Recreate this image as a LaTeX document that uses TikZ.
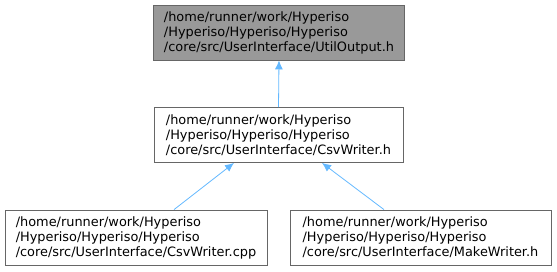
\documentclass[tikz,border=0pt]{standalone}
\usepackage{fontspec}
\setmainfont{DejaVu Sans}
\usetikzlibrary{arrows.meta}
\definecolor{edgeblue}{HTML}{63B8FF}
\definecolor{boxborder}{HTML}{666666}
\definecolor{hlfill}{HTML}{999999}
\definecolor{txt}{HTML}{000000}
\tikzset{
  filebox/.style={draw=boxborder, line width=0.8pt, fill=white, rectangle, align=left,
    minimum width=251pt, minimum height=55pt, inner sep=0pt,
    font=\fontsize{12.9pt}{15pt}\selectfont, text=txt},
  hlbox/.style={filebox, fill=hlfill},
  dep/.style={draw=edgeblue, line width=0.8pt, -{Latex[length=9pt,width=8pt]}}
}
\begin{document}
\begin{tikzpicture}[x=1pt,y=-1pt]
\useasboundingbox (0,0) rectangle (557,271);
\node[hlbox] (util) at (279,32.5) {/home/runner/work/Hyperiso\\/Hyperiso/Hyperiso/Hyperiso\\/core/src/UserInterface/UtilOutput.h};
\node[filebox, minimum width=249pt] (csvh) at (278.5,135) {/home/runner/work/Hyperiso\\/Hyperiso/Hyperiso/Hyperiso\\/core/src/UserInterface/CsvWriter.h};
\node[filebox, minimum width=262pt] (csvcpp) at (136,237.5) {/home/runner/work/Hyperiso\\/Hyperiso/Hyperiso/Hyperiso\\/core/src/UserInterface/CsvWriter.cpp};
\node[filebox, minimum width=261pt] (make) at (420.5,237.5) {/home/runner/work/Hyperiso\\/Hyperiso/Hyperiso/Hyperiso\\/core/src/UserInterface/MakeWriter.h};
\draw[dep] (csvh.north) -- (util.south);
\draw[dep] (csvcpp.north -| 174,0) -- (csvh.south -| 234,0);
\draw[dep] (make.north -| 384,0) -- (csvh.south -| 322,0);
\end{tikzpicture}
\end{document}
